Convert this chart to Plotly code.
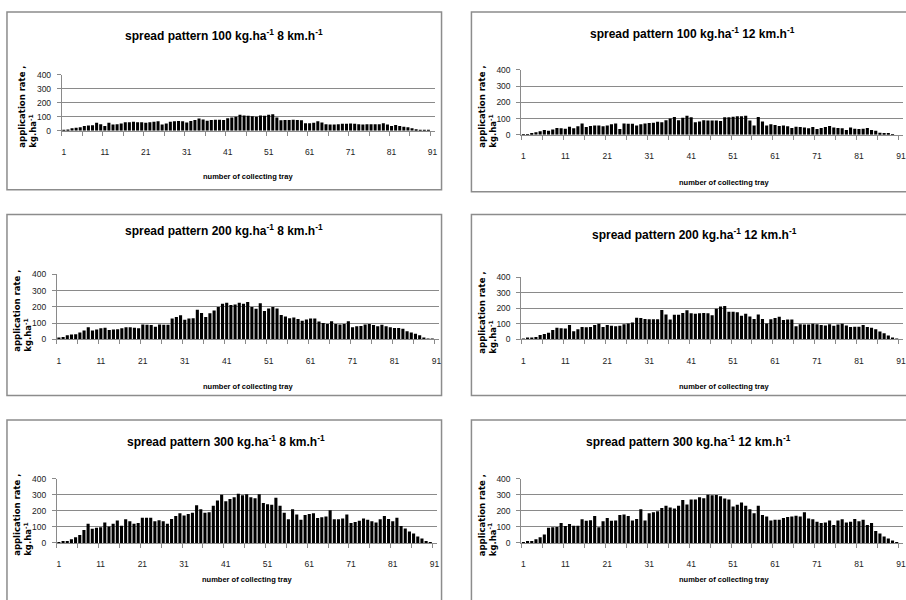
import plotly.graph_objects as go

trays = list(range(1, 91))

rate100_8 = [5, 10, 18, 22, 25, 35, 38, 40, 58, 48,
             35, 58, 45, 48, 52, 62, 62, 65, 62, 62,
             58, 62, 65, 68, 45, 52, 65, 68, 70, 68,
             60, 70, 78, 88, 82, 72, 78, 80, 80, 78,
             90, 95, 100, 115, 110, 108, 105, 100, 110, 108,
             115, 118, 95, 75, 78, 78, 80, 78, 75, 55,
             55, 58, 68, 60, 48, 45, 45, 48, 50, 50,
             52, 50, 48, 45, 48, 48, 48, 48, 55, 45,
             35, 42, 35, 30, 25, 18, 12, 8, 5, 2]

rate100_12 = [3, 5, 10, 15, 22, 30, 25, 32, 42, 40,
              38, 50, 40, 52, 70, 48, 55, 58, 58, 52,
              58, 65, 70, 35, 70, 68, 68, 58, 65, 70,
              72, 75, 80, 78, 90, 100, 110, 90, 105, 118,
              108, 78, 82, 90, 88, 88, 88, 85, 108, 108,
              112, 115, 115, 118, 88, 58, 110, 82, 58, 65,
              60, 55, 58, 52, 42, 50, 48, 45, 40, 48,
              35, 42, 48, 55, 45, 42, 40, 30, 45, 38,
              35, 38, 42, 30, 25, 12, 10, 8, 3, 0]

rate200_8 = [8, 15, 25, 30, 32, 42, 55, 75, 55, 60,
             68, 72, 58, 60, 62, 68, 75, 75, 72, 68,
             92, 90, 88, 78, 92, 90, 90, 128, 138, 148,
             120, 128, 130, 182, 162, 138, 160, 178, 200, 220,
             225, 212, 215, 225, 220, 230, 200, 188, 222, 175,
             190, 200, 190, 150, 140, 130, 135, 125, 115, 122,
             128, 128, 110, 100, 95, 112, 95, 92, 95, 112,
             75, 80, 82, 92, 95, 88, 80, 90, 80, 75,
             70, 70, 65, 50, 42, 35, 25, 12, 5, 2]

rate200_12 = [5, 8, 10, 15, 28, 35, 42, 60, 75, 72,
              70, 92, 52, 65, 80, 78, 80, 92, 100, 80,
              92, 88, 85, 88, 98, 102, 108, 140, 138, 132,
              130, 130, 130, 190, 160, 128, 158, 158, 170, 188,
              168, 165, 168, 170, 168, 155, 198, 212, 215, 178,
              178, 175, 152, 165, 148, 132, 160, 132, 102, 130,
              138, 145, 125, 128, 128, 85, 98, 95, 95, 100,
              98, 92, 90, 98, 88, 95, 100, 90, 80, 82,
              82, 92, 80, 75, 65, 50, 40, 25, 10, 3]

rate300_8 = [5, 8, 12, 22, 35, 50, 80, 120, 88, 95,
             98, 128, 102, 120, 140, 108, 148, 135, 120, 125,
             158, 158, 158, 135, 142, 135, 120, 150, 168, 185,
             172, 180, 188, 235, 210, 188, 192, 232, 265, 302,
             260, 275, 285, 308, 298, 305, 285, 280, 305, 250,
             242, 238, 282, 232, 188, 148, 210, 178, 145, 175,
             180, 185, 155, 160, 165, 205, 148, 148, 152, 178,
             125, 130, 138, 152, 145, 135, 128, 148, 168, 150,
             135, 158, 105, 90, 72, 58, 40, 28, 12, 2]

rate300_12 = [5, 8, 12, 22, 35, 52, 95, 98, 100, 125,
              105, 118, 108, 108, 148, 138, 142, 168, 98, 135,
              155, 138, 140, 175, 178, 168, 140, 150, 210, 140,
              185, 192, 198, 218, 232, 222, 215, 232, 268, 240,
              272, 272, 285, 280, 302, 298, 300, 292, 278, 272,
              228, 238, 252, 232, 210, 185, 232, 175, 165, 140,
              145, 145, 155, 162, 165, 170, 165, 192, 152, 148,
              132, 125, 128, 140, 112, 140, 148, 128, 132, 150,
              135, 145, 112, 125, 75, 58, 40, 28, 15, 3]

titles = [
    "spread pattern 100 kg.ha<sup>-1</sup> 8 km.h<sup>-1</sup>",
    "spread pattern 100 kg.ha<sup>-1</sup> 12 km.h<sup>-1</sup>",
    "spread pattern 200 kg.ha<sup>-1</sup> 8 km.h<sup>-1</sup>",
    "spread pattern 200 kg.ha<sup>-1</sup> 12 km.h<sup>-1</sup>",
    "spread pattern 300 kg.ha<sup>-1</sup> 8 km.h<sup>-1</sup>",
    "spread pattern 300 kg.ha<sup>-1</sup> 12 km.h<sup>-1</sup>",
]
series = [rate100_8, rate100_12, rate200_8, rate200_12, rate300_8, rate300_12]
x_tick_vals = [1, 11, 21, 31, 41, 51, 61, 71, 81, 91]
y_tick_vals = [0, 100, 200, 300, 400]
y_title = "application rate ,<br>kg.ha<sup>-1</sup>"
x_title = "number of collecting tray"

W, H = 906, 600

# layout in pixels: plot left/right, y of value 0, y of value 400, frame box, title centre
panels = [
    dict(pl=62, pr=436, y0=128, y4=71, box=(7, 7, 443, 188), tx=225, ty=31, xt=174),
    dict(pl=523, pr=906, y0=132, y4=66, box=(473, 7, 912, 190), tx=695, ty=28, xt=181),
    dict(pl=57, pr=440, y0=340, y4=274, box=(7, 213, 443, 397), tx=225, ty=229, xt=388),
    dict(pl=523, pr=906, y0=340, y4=277, box=(473, 213, 912, 397), tx=697, ty=233, xt=388),
    dict(pl=57, pr=438, y0=547, y4=482, box=(7, 422, 443, 610), tx=227, ty=443, xt=584),
    dict(pl=523, pr=906, y0=547, y4=482, box=(473, 422, 912, 610), tx=691, ty=443, xt=584),
]

font_main = "Liberation Sans, Arial, sans-serif"
fig = go.Figure()
annotations = []
shapes = []
layout_axes = {}
grid = "#8a8a8a"

for i, (p, vals, ttl) in enumerate(zip(panels, series, titles)):
    n = i + 1
    xa = "x" if n == 1 else f"x{n}"
    ya = "y" if n == 1 else f"y{n}"
    fig.add_trace(go.Bar(x=trays, y=vals, xaxis=xa, yaxis=ya,
                         marker=dict(color="black", line=dict(width=0)),
                         width=0.74, showlegend=False))
    xkey = "xaxis" if n == 1 else f"xaxis{n}"
    ykey = "yaxis" if n == 1 else f"yaxis{n}"
    layout_axes[xkey] = dict(
        domain=[p["pl"] / W, min(p["pr"] / W, 1.0)], anchor=ya,
        range=[0.5, 91.5], tickvals=x_tick_vals, ticks="",
        ticklabelstandoff=13,
        showline=True, linecolor=grid, linewidth=1, showgrid=False, zeroline=False,
        tickfont=dict(family=font_main, size=8.5, color="#222"),
        minor=dict(tickvals=[0.5 + 5 * k for k in range(19)], ticks="outside",
                   ticklen=4, tickcolor=grid, tickwidth=1, showgrid=False),
    )
    layout_axes[ykey] = dict(
        domain=[1 - p["y0"] / H, 1 - p["y4"] / H], anchor=xa,
        range=[0, 400], tickvals=y_tick_vals, ticks="outside", ticklen=4,
        ticklabelstandoff=4,
        tickcolor=grid, showline=True, linecolor=grid, linewidth=1,
        showgrid=True, gridcolor=grid, gridwidth=1, zeroline=False,
        tickfont=dict(family=font_main, size=8.5, color="#222"),
    )
    bx0, by0, bx1, by1 = p["box"]
    shapes.append(dict(type="rect", xref="paper", yref="paper",
                       x0=bx0 / W, x1=bx1 / W, y0=1 - by1 / H, y1=1 - by0 / H,
                       line=dict(color="#8c8c8c", width=1.5), fillcolor="rgba(0,0,0,0)",
                       layer="below"))
    annotations.append(dict(text=f"<b>{ttl}</b>", xref="paper", yref="paper",
                            x=p["tx"] / W, y=1 - p["ty"] / H,
                            xanchor="center", yanchor="middle", showarrow=False,
                            font=dict(family=font_main, size=12, color="black")))
    annotations.append(dict(text=f"<b>{y_title}</b>", xref="paper", yref="paper",
                            x=(p["pl"] - 34) / W, y=1 - ((p["y0"] + p["y4"]) / 2 + 4) / H,
                            xanchor="center", yanchor="middle", textangle=-90,
                            align="left", showarrow=False,
                            font=dict(family="DejaVu Sans, sans-serif", size=8.5, color="black")))
    annotations.append(dict(text=f"<b>{x_title}</b>", xref="paper", yref="paper",
                            x=((p["pl"] + min(p["pr"], 906)) / 2 + (0 if n % 2 == 1 else 12)) / W,
                            y=1 - p["xt"] / H,
                            xanchor="center", yanchor="middle", showarrow=False,
                            font=dict(family=font_main, size=7.5, color="black")))

fig.update_layout(width=W, height=H, margin=dict(l=0, r=0, t=0, b=0),
                  paper_bgcolor="white", plot_bgcolor="white",
                  bargap=0.3, annotations=annotations, shapes=shapes,
                  **layout_axes)

fig.write_html("out.html", config={"displayModeBar": False},
               post_script="document.body.style.margin='0';")
